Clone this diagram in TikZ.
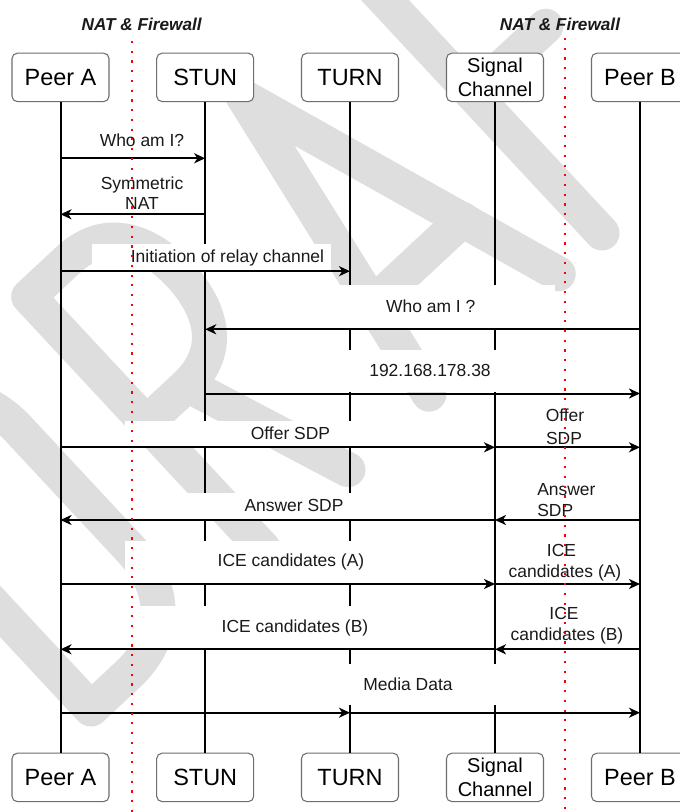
\documentclass[tikz,border=0pt]{standalone}
\usepackage{fontspec}
\setmainfont{Liberation Sans}
\usetikzlibrary{arrows.meta}
\definecolor{wm}{HTML}{DEDEDE}
\definecolor{boxline}{HTML}{6E6E6E}
\definecolor{txt}{HTML}{1A1A1A}
\begin{document}
\begin{tikzpicture}[x=0.75pt,y=-0.75pt,
  actor/.style={draw=boxline, fill=white, rounded corners=4pt, line width=0.8pt,
    minimum width=72.75pt, minimum height=36.3pt, inner sep=0pt,
    font=\fontsize{17.6}{20}\selectfont},
  actortwo/.style={actor, align=center, font=\fontsize{15}{17.8}\selectfont},
  life/.style={line width=1.5pt, black},
  msg/.style={line width=1.5pt, black, -{Stealth[length=8.25pt,width=7.5pt,inset=2.4pt]}},
  lbl/.style={font=\fontsize{13.1}{15}\selectfont, text=txt, inner sep=0pt, anchor=base},
  bg/.style={fill=white, draw=none},
  fw/.style={red, line width=1.6pt, dash pattern=on 1.6pt off 5.7pt},
  fwlbl/.style={font=\fontsize{12.9}{15}\selectfont\bfseries\itshape, text=txt, inner sep=0pt, anchor=base},
  wmstroke/.style={draw=wm, line width=26.25pt, line cap=round, line join=round}]
\useasboundingbox (0,0) rectangle (680,812);
\clip (0,0) rectangle (680,812);
\fill[white] (0,0) rectangle (680,812);

% watermark (DRAFT, rotated)
\begin{scope}[shift={(91,709)}, x={(0.5475pt,0.51pt)}, y={(-0.51pt,0.5475pt)}]
  \draw[wmstroke] (0,345) -- (0,0) -- (50,0) .. controls (105,0) and (138,35) .. (138,90)
        -- (138,255) .. controls (138,310) and (105,345) .. (50,345) -- cycle;
  \draw[wmstroke] (236,0) -- (236,345) -- (290,345) .. controls (345,345) and (362,300) .. (362,258)
        .. controls (362,215) and (345,172) .. (290,172) -- (236,172);
  \draw[wmstroke] (292,172) -- (352,0);
  \draw[wmstroke] (463,0) -- (530,345) -- (640,0);
  \draw[wmstroke] (483,105) -- (607,105);
  \draw[wmstroke] (830,345) -- (700,345) -- (700,0);
  \draw[wmstroke] (700,190) -- (800,190);
\end{scope}

% actors
\node[actor] (pa) at (60.5,77.4) {Peer A};
\node[actor] (stun) at (205.2,77.4) {STUN};
\node[actor] (turn) at (350,77.4) {TURN};
\node[actortwo] (sig) at (495,77.4) {Signal\\Channel};
\node[actor] (pb) at (640,77.4) {Peer B};
\node[actor] (pa2) at (60.5,777.4) {Peer A};
\node[actor] (stun2) at (205.2,777.4) {STUN};
\node[actor] (turn2) at (350,777.4) {TURN};
\node[actortwo] (sig2) at (495,777.4) {Signal\\Channel};
\node[actor] (pb2) at (640,777.4) {Peer B};

% lifelines
\draw[life] (pa.south) -- (pa2.north);
\draw[life] (stun.south) -- (stun2.north);
\draw[life] (turn.south) -- (turn2.north);
\draw[life] (sig.south) -- (sig2.north);
\draw[life] (pb.south) -- (pb2.north);

% label backgrounds
\path[bg] (65,128) rectangle (196,157);
\path[bg] (65,176) rectangle (186,213);
\path[bg] (92,244) rectangle (331,271);
\path[bg] (265,285) rectangle (555,328);
\path[bg] (265,350) rectangle (555,392);
\path[bg] (125,421) rectangle (425,446);
\path[bg] (127,493) rectangle (428,519);
\path[bg] (125,541) rectangle (423,583);
\path[bg] (126,606) rectangle (429,648);
\path[bg] (220,664) rectangle (553,705);

% message rows
\coordinate (m1) at (0,158.3);
\coordinate (m2) at (0,214.3);
\coordinate (m3) at (0,271.2);
\coordinate (m4) at (0,329.3);
\coordinate (m5) at (0,393.5);
\coordinate (m6) at (0,447.3);
\coordinate (m7) at (0,520);
\coordinate (m8) at (0,584);
\coordinate (m9) at (0,649.3);
\coordinate (m10) at (0,712.7);

\draw[msg] (pa |- m1) -- (stun |- m1);
\draw[msg] (stun |- m2) -- (pa |- m2);
\draw[msg] (pa |- m3) -- (turn |- m3);
\draw[msg] (pb |- m4) -- (stun |- m4);
\draw[msg] (stun |- m5) -- (pb |- m5);
\draw[msg] (pa |- m6) -- (sig |- m6);
\draw[msg] (sig |- m6) -- (pb |- m6);
\draw[msg] (sig |- m7) -- (pa |- m7);
\draw[msg] (pb |- m7) -- (sig |- m7);
\draw[msg] (pa |- m8) -- (sig |- m8);
\draw[msg] (sig |- m8) -- (pb |- m8);
\draw[msg] (sig |- m9) -- (pa |- m9);
\draw[msg] (pb |- m9) -- (sig |- m9);
\draw[msg] (pa |- m10) -- (turn |- m10);
\draw[msg] (turn |- m10) -- (pb |- m10);

% labels
\node[lbl] (l1) at (142,146.7) {Who am I?};
\node[lbl] (l2a) at (142,190) {Symmetric};
\node[lbl] (l2b) at (142,210) {NAT};
\node[lbl] (l3) at (227.5,262.7) {Initiation of relay channel};
\node[lbl] (l4) at (430.7,312.3) {Who am I ?};
\node[lbl] (l5) at (430,376.7) {192.168.178.38};
\node[lbl] (l6) at (290.5,439.3) {Offer SDP};
\node[lbl] (l6a) at (565,421.7) {Offer};
\node[lbl] (l6b) at (564,444) {SDP};
\node[lbl] (l7) at (294,511.7) {Answer SDP};
\node[lbl, anchor=base west] (l7a) at (537,495) {Answer};
\node[lbl, anchor=base west] (l7b) at (537,516.7) {SDP};
\node[lbl] (l8) at (291,566.7) {ICE candidates (A)};
\node[lbl] (l8a) at (561.5,556) {ICE};
\node[lbl] (l8b) at (565,577.7) {candidates (A)};
\node[lbl] (l9) at (295,632.7) {ICE candidates (B)};
\node[lbl] (l9a) at (564,619.3) {ICE};
\node[lbl] (l9b) at (567,640.7) {candidates (B)};
\node[lbl] (l10) at (408,690) {Media Data};

% NAT / firewall boundaries
\coordinate (fwa) at (132,41);
\coordinate (fwa2) at (132,812);
\coordinate (fwb) at (565,38);
\coordinate (fwb2) at (565,812);
\draw[fw] (fwa) -- (fwa2);
\draw[fw] (fwb) -- (fwb2);
\node[fwlbl] (nat1) at (141.7,30.7) {NAT \& Firewall};
\node[fwlbl] (nat2) at (560,30.7) {NAT \& Firewall};
\end{tikzpicture}
\end{document}
